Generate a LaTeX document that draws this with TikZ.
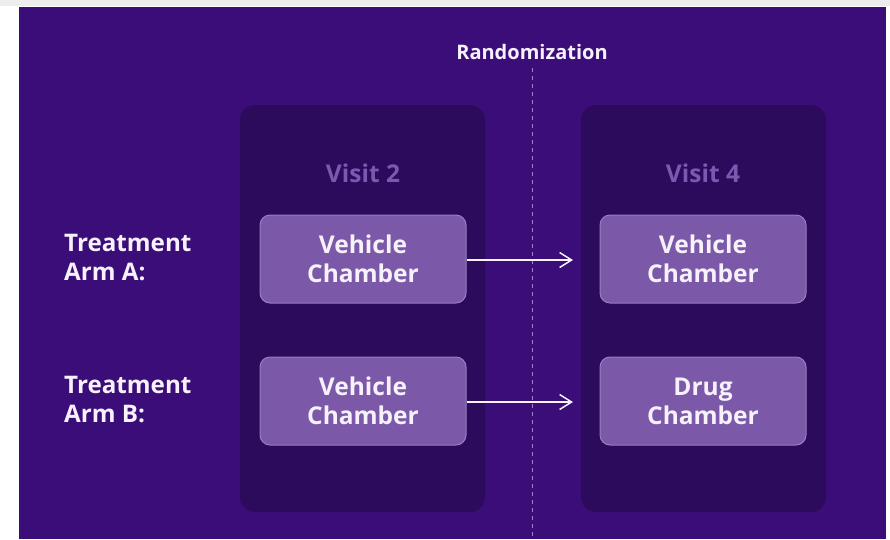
\documentclass[tikz,border=0pt]{standalone}
\usepackage{fontspec}
\setmainfont{Open Sans}
\usetikzlibrary{arrows.meta}
\definecolor{bgpurple}{HTML}{3B0D78}
\definecolor{panelpurple}{HTML}{2C0A5C}
\definecolor{boxpurple}{HTML}{7B59A8}
\definecolor{boxedge}{HTML}{9A7DC2}
\definecolor{visittext}{HTML}{7A5AB0}
\definecolor{dashline}{HTML}{9F86C9}
\definecolor{paletext}{HTML}{F6F1FB}
\tikzset{
  panel/.style={fill=panelpurple, rounded corners=15pt},
  chamber/.style={fill=boxpurple, draw=boxedge, line width=1pt, rounded corners=10pt,
    minimum width=206pt, minimum height=88pt, align=center,
    text=paletext, font=\fontsize{24.5}{29}\selectfont\bfseries},
  visit/.style={text=visittext, font=\fontsize{24.5}{29}\selectfont\bfseries},
  armlabel/.style={text=paletext, align=left, anchor=west, inner sep=0pt,
    font=\fontsize{24.2}{29}\selectfont\bfseries},
  flow/.style={draw=paletext, line width=1.5pt, -{Straight Barb[length=12pt,width=15pt]}}
}
\begin{document}
\begin{tikzpicture}[x=1pt, y=-1pt]
  \useasboundingbox (0,0) rectangle (890,539);
  % page and background
  \fill[white] (0,0) rectangle (890,539);
  \fill[black!7] (0,0) rectangle (890,6);
  \fill[bgpurple] (19,7) rectangle (886,539);

  % randomization divider
  \node[text=paletext, font=\fontsize{20}{22}\selectfont\bfseries] (rand) at (532,52) {Randomization};
  \coordinate (divtop) at (532,68);
  \coordinate (divbot) at (532,539);

  % visit panels
  \fill[panel] (240,105) rectangle (485,512);
  \fill[panel] (581,105) rectangle (826,512);
  \draw[dashline, line width=0.8pt, dash pattern=on 4pt off 4pt] (divtop) -- (divbot);

  \node[visit] (visitA) at (363,173) {Visit 2};
  \node[visit] (visitB) at (703,173) {Visit 4};

  % chambers
  \node[chamber] (preA) at (363,259) {Vehicle\\Chamber};
  \node[chamber] (preB) at (363,401) {Vehicle\\Chamber};
  \node[chamber] (postA) at (703,259) {Vehicle\\Chamber};
  \node[chamber] (postB) at (703,401) {Drug\\Chamber};

  \node[armlabel] (armA) at (64,258) {Treatment\\Arm A:};
  \node[armlabel] (armB) at (64,400) {Treatment\\Arm B:};

  \coordinate (tipA) at (573,260);
  \coordinate (tipB) at (573,402);
  \draw[flow] (preA.east |- tipA) -- (tipA);
  \draw[flow] (preB.east |- tipB) -- (tipB);
\end{tikzpicture}
\end{document}
